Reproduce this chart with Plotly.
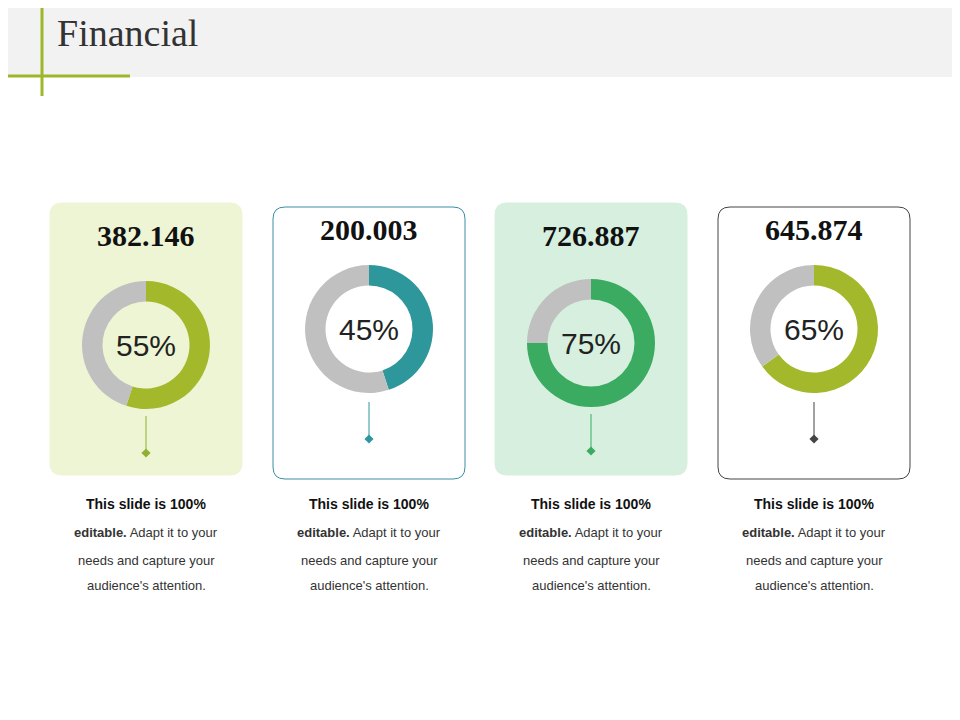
import plotly.graph_objects as go

values = ["382.146", "200.003", "726.887", "645.874"]
percents = [55, 45, 75, 65]
colors = ["#a3b92b", "#2e979c", "#3aab60", "#a3b92b"]
stem_colors = ["#8fb030", "#2e979c", "#3aab60", "#444444"]
card_fill = ["#eef5d4", "#ffffff", "#d6efdf", "#ffffff"]
card_line = ["#eef5d4", "#3a8fa5", "#d6efdf", "#444444"]
centers_x = [146, 369, 591, 814]
donut_y = [345, 329, 343, 329]
value_y = [235, 229, 235, 229]
card_top = [203, 207, 203, 207]
body_lines = ["<b>This slide is 100%</b>", "<b>editable.</b> Adapt it to your",
              "needs and capture your", "audience's attention."]

W, H = 960, 720
OFF = 8  # page body margin
fig = go.Figure()
fig.update_layout(width=W, height=H, margin=dict(l=0, r=0, t=0, b=0),
                  paper_bgcolor="white", plot_bgcolor="white", showlegend=False,
                  xaxis=dict(range=[OFF, W + OFF], visible=False, fixedrange=True),
                  yaxis=dict(range=[H + OFF, OFF], visible=False, fixedrange=True))

def rrect(x0, y0, x1, y1, r):
    return (f"M{x0+r},{y0} L{x1-r},{y0} Q{x1},{y0} {x1},{y0+r} L{x1},{y1-r} Q{x1},{y1} {x1-r},{y1} "
            f"L{x0+r},{y1} Q{x0},{y1} {x0},{y1-r} L{x0},{y0+r} Q{x0},{y0} {x0+r},{y0} Z")

shapes = [dict(type="rect", x0=-20, x1=W + 40, y0=-20, y1=77, fillcolor="#f2f2f2", line_width=0, layer="below"),
          dict(type="line", x0=42, x1=42, y0=-20, y1=96, line=dict(color="#9cb82a", width=3)),
          dict(type="line", x0=-20, x1=130, y0=76, y1=76, line=dict(color="#9cb82a", width=3))]
ann = [dict(x=55, y=33, text="Financial", showarrow=False, xanchor="left", yanchor="middle",
            font=dict(family="Liberation Serif", size=38, color="#333333"))]

R = 64
for i in range(4):
    cx, cy = centers_x[i], donut_y[i]
    top = card_top[i]
    shapes.append(dict(type="path", path=rrect(cx - 96, top, cx + 96, top + 272, 12),
                       fillcolor=card_fill[i], line=dict(color=card_line[i], width=1), layer="below"))
    fig.add_trace(go.Pie(values=[percents[i], 100 - percents[i]], hole=0.68, sort=False,
                         direction="clockwise", rotation=0, textinfo="none", hoverinfo="skip",
                         marker=dict(colors=[colors[i], "#c0c0c0"], line=dict(width=0)),
                         domain=dict(x=[(cx - R - OFF) / W, (cx + R - OFF) / W],
                                     y=[1 - (cy + R - OFF) / H, 1 - (cy - R - OFF) / H])))
    ann.append(dict(x=cx, y=cy, text=f"{percents[i]}%", showarrow=False,
                    font=dict(family="Liberation Sans", size=30, color="#222222")))
    ann.append(dict(x=cx, y=value_y[i], text=f"<b>{values[i]}</b>", showarrow=False,
                    font=dict(family="Liberation Serif", size=30, color="#111111")))
    y0 = cy + R + 5 + (2 if i % 2 == 0 else 4)
    y1 = y0 + 37
    shapes.append(dict(type="line", x0=cx, x1=cx, y0=y0, y1=y1, line=dict(color=stem_colors[i], width=1)))
    fig.add_trace(go.Scatter(x=[cx], y=[y1], mode="markers", hoverinfo="skip",
                             marker=dict(symbol="diamond", size=7, color=stem_colors[i])))
    for j, (t, yy) in enumerate(zip(body_lines, [504, 532, 560, 585])):
        ann.append(dict(x=cx, y=yy, text=t, showarrow=False,
                        font=dict(family="Liberation Sans", size=14 if j == 0 else 13,
                                  color="#111111" if j == 0 else "#333333")))

fig.update_layout(shapes=shapes, annotations=ann)
fig.write_html("out.html")
